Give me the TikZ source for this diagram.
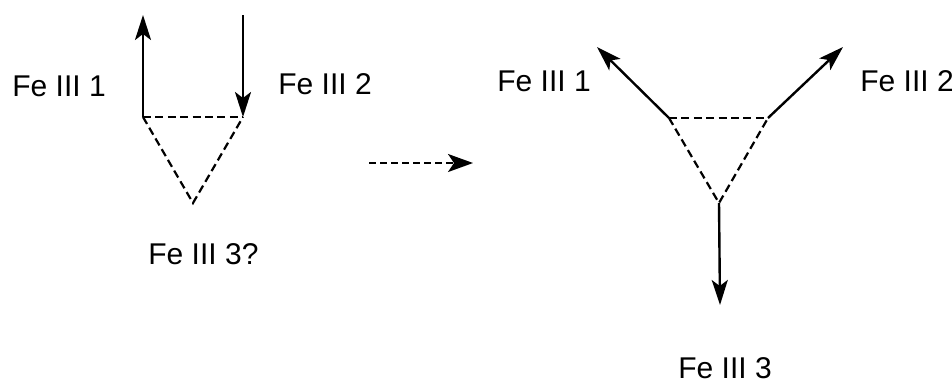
\documentclass[tikz,border=0pt]{standalone}
\usepackage{fontspec}
\setmainfont{Liberation Sans}
\usetikzlibrary{arrows.meta}
\begin{document}
\begin{tikzpicture}[x=0.5pt,y=-0.5pt,
  lbl/.style={anchor=west,inner sep=0pt,font=\fontsize{15}{17}\selectfont},
  vec/.style={line width=1.2pt,-{Stealth[length=12.5pt,width=8pt,inset=3pt]}},
  bond/.style={line width=1.1pt,dash pattern=on 4pt off 2.2pt},
  move/.style={line width=1.1pt,dash pattern=on 3.5pt off 2pt,-{Stealth[length=12.5pt,width=9pt,inset=3pt]}}]
\useasboundingbox (0,0) rectangle (952,382);
% left triangle
\coordinate (a1) at (143,117);
\coordinate (a2) at (243,117);
\coordinate (a3) at (193,203);
\coordinate (t1) at (143,15);
\coordinate (s2) at (243,15);
\draw[bond] (a1) -- (a2);
\draw[bond] (a1) -- (a3) -- (a2);
\draw[vec] (a1) -- (t1);
\draw[vec] (s2) -- (a2);
\node[lbl] (l1) at (12,86) {Fe III 1};
\node[lbl] (l2) at (278,84) {Fe III 2};
\node[lbl] (l3) at (148,254) {Fe III 3?};
% transition arrow
\coordinate (m1) at (369,163);
\coordinate (m2) at (473,163);
\draw[move] (m1) -- (m2);
% right triangle
\coordinate (b1) at (669,118);
\coordinate (b2) at (768,118);
\coordinate (b3) at (719,203);
\coordinate (u1) at (597,47);
\coordinate (u2) at (843,47);
\coordinate (u3) at (720,305);
\draw[bond] (b1) -- (b2);
\draw[bond] (b1) -- (b3) -- (b2);
\draw[vec] (b1) -- (u1);
\draw[vec] (b2) -- (u2);
\draw[vec] (b3) -- (u3);
\node[lbl] (r1) at (497,81) {Fe III 1};
\node[lbl] (r2) at (860,81) {Fe III 2};
\node[lbl] (r3) at (678,368) {Fe III 3};
\end{tikzpicture}
\end{document}
